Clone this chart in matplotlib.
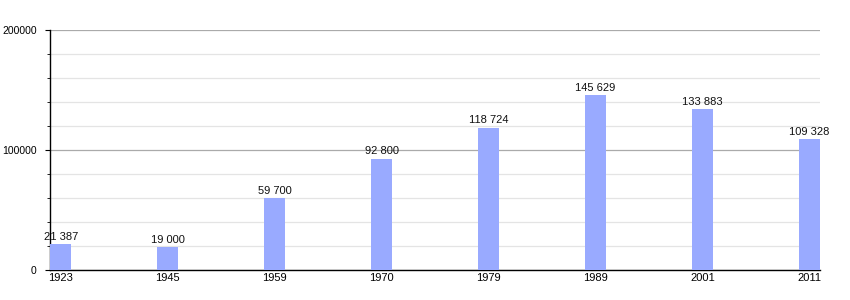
import numpy as np
import matplotlib.pyplot as plt
from matplotlib.ticker import MultipleLocator

years = ["1923", "1945", "1959", "1970", "1979", "1989", "2001", "2011"]
population = [21387, 19000, 59700, 92800, 118724, 145629, 133883, 109328]
bar_labels = ["21 387", "19 000", "59 700", "92 800", "118 724", "145 629", "133 883", "109 328"]

if __name__ == '__main__':
    plt.rcParams['font.family'] = ['Liberation Sans', 'DejaVu Sans']
    plt.rcParams['font.stretch'] = 'normal'
    fig = plt.figure(figsize=(8.5, 3), dpi=100)
    ax = fig.add_axes([50 / 850, 30 / 300, 770 / 850, 240 / 300])

    x = np.arange(len(years))
    ax.bar(x, population, width=0.2, color="#99aaff", zorder=3)

    for xi, v, t in zip(x, population, bar_labels):
        ax.text(xi, v + 1800, t, ha="center", va="bottom", fontsize=8, color="#111111")

    ax.set_xlim(-0.1, len(years) - 0.9)
    ax.set_ylim(0, 200000)
    ax.set_xticks(x)
    ax.set_xticklabels(years, fontsize=8)
    ax.tick_params(axis="x", length=0, pad=2)

    ax.yaxis.set_major_locator(MultipleLocator(100000))
    ax.yaxis.set_minor_locator(MultipleLocator(20000))
    ax.tick_params(axis="y", which="major", length=3.5, labelsize=7.5, pad=6, direction="out")
    ax.tick_params(axis="y", which="minor", length=2.5, direction="out")

    # 网格线
    ax.grid(axis="y", which="major", color="#aaaaaa", linewidth=0.9, zorder=0)
    ax.grid(axis="y", which="minor", color="#e4e4e4", linewidth=0.9, zorder=0)

    ax.spines["right"].set_color("none")
    ax.spines["top"].set_color("none")
    ax.spines["left"].set_linewidth(1.0)
    ax.spines["bottom"].set_linewidth(1.0)

    fig.savefig("out.png", dpi=100)
